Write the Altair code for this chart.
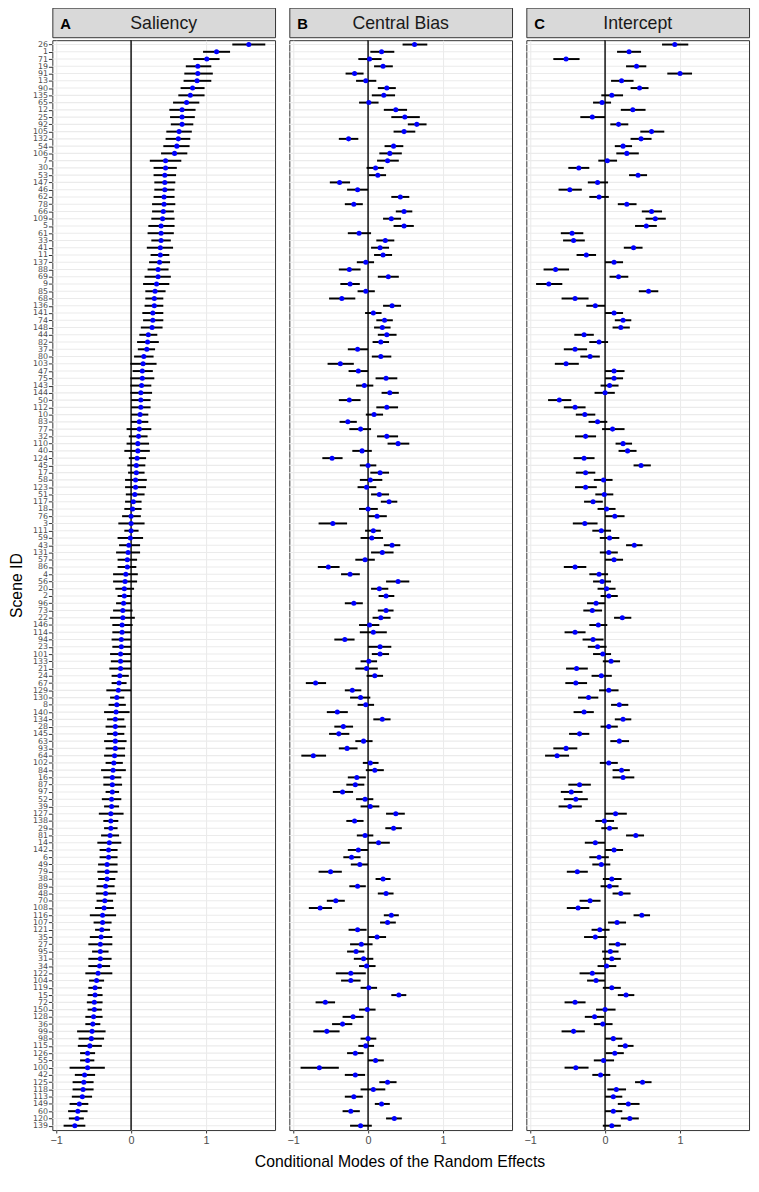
import altair as alt
import pandas as pd

# ---------------- data ----------------
scene_ids = [26, 1, 71, 19, 91, 13, 90, 135, 65, 12,
             25, 92, 105, 132, 54, 106, 7, 30, 53, 147,
             46, 62, 78, 66, 109, 5, 61, 33, 41, 11,
             137, 88, 69, 9, 85, 68, 136, 141, 74, 148,
             44, 82, 37, 80, 103, 47, 75, 143, 144, 50,
             112, 10, 83, 77, 32, 110, 40, 124, 45, 17,
             58, 123, 51, 117, 18, 76, 3, 111, 59, 43,
             131, 57, 86, 4, 56, 20, 2, 96, 73, 22,
             146, 114, 94, 23, 101, 133, 21, 24, 67, 129,
             130, 8, 140, 134, 28, 145, 63, 93, 64, 102,
             84, 16, 87, 97, 52, 39, 127, 138, 29, 81,
             14, 142, 6, 49, 79, 38, 89, 48, 70, 108,
             116, 107, 121, 35, 27, 95, 31, 34, 122, 104,
             119, 15, 72, 150, 128, 36, 99, 98, 115, 126,
             55, 100, 42, 125, 118, 113, 149, 60, 120, 139]

sal = [1.57, 1.14, 1.01, 0.89, 0.89, 0.88, 0.82, 0.79, 0.74, 0.68,
       0.68, 0.68, 0.64, 0.63, 0.61, 0.58, 0.46, 0.46, 0.45, 0.45,
       0.45, 0.44, 0.44, 0.43, 0.42, 0.40, 0.40, 0.40, 0.39, 0.39,
       0.38, 0.36, 0.36, 0.34, 0.32, 0.31, 0.31, 0.29, 0.29, 0.28,
       0.23, 0.22, 0.21, 0.17, 0.16, 0.15, 0.15, 0.14, 0.13, 0.13,
       0.13, 0.12, 0.11, 0.11, 0.10, 0.09, 0.09, 0.08, 0.07, 0.07,
       0.06, 0.06, 0.05, 0.03, 0.02, 0.00, 0.00, 0.00, -0.01, -0.03,
       -0.04, -0.05, -0.05, -0.07, -0.08, -0.09, -0.09, -0.10, -0.11, -0.11,
       -0.12, -0.12, -0.13, -0.13, -0.14, -0.14, -0.14, -0.15, -0.16, -0.17,
       -0.19, -0.19, -0.20, -0.21, -0.21, -0.21, -0.21, -0.21, -0.22, -0.23,
       -0.24, -0.25, -0.25, -0.25, -0.26, -0.26, -0.27, -0.27, -0.27, -0.28,
       -0.29, -0.30, -0.30, -0.32, -0.32, -0.32, -0.34, -0.34, -0.35, -0.36,
       -0.38, -0.38, -0.39, -0.40, -0.41, -0.41, -0.41, -0.42, -0.44, -0.46,
       -0.48, -0.48, -0.49, -0.49, -0.50, -0.51, -0.52, -0.53, -0.55, -0.58,
       -0.58, -0.58, -0.62, -0.63, -0.64, -0.65, -0.69, -0.71, -0.72, -0.75]
sal_lo = [1.35, 0.96, 0.83, 0.73, 0.71, 0.70, 0.66, 0.63, 0.56, 0.51,
          0.52, 0.53, 0.47, 0.46, 0.43, 0.40, 0.25, 0.30, 0.30, 0.31,
          0.31, 0.30, 0.28, 0.28, 0.27, 0.23, 0.22, 0.27, 0.21, 0.26,
          0.24, 0.22, 0.18, 0.16, 0.19, 0.19, 0.18, 0.15, 0.16, 0.13,
          0.11, 0.08, 0.09, 0.04, -0.01, 0.02, -0.01, -0.01, -0.01, 0.00,
          0.00, 0.00, 0.00, -0.06, -0.03, -0.06, -0.09, -0.03, -0.05, -0.04,
          -0.08, -0.08, -0.07, -0.08, -0.09, -0.12, -0.17, -0.09, -0.18, -0.16,
          -0.20, -0.18, -0.18, -0.24, -0.24, -0.21, -0.18, -0.20, -0.24, -0.28,
          -0.25, -0.25, -0.26, -0.25, -0.28, -0.27, -0.29, -0.26, -0.26, -0.33,
          -0.28, -0.30, -0.36, -0.32, -0.34, -0.32, -0.36, -0.34, -0.36, -0.34,
          -0.40, -0.37, -0.37, -0.34, -0.39, -0.36, -0.43, -0.37, -0.36, -0.40,
          -0.45, -0.42, -0.42, -0.44, -0.45, -0.44, -0.46, -0.47, -0.46, -0.48,
          -0.55, -0.50, -0.48, -0.55, -0.57, -0.52, -0.57, -0.57, -0.61, -0.56,
          -0.57, -0.58, -0.59, -0.58, -0.61, -0.61, -0.72, -0.70, -0.71, -0.68,
          -0.68, -0.82, -0.75, -0.78, -0.78, -0.79, -0.82, -0.84, -0.83, -0.90]
sal_hi = [1.79, 1.32, 1.18, 1.07, 1.09, 1.07, 0.98, 0.98, 0.91, 0.86,
          0.85, 0.83, 0.81, 0.79, 0.78, 0.75, 0.67, 0.61, 0.60, 0.59,
          0.58, 0.58, 0.59, 0.57, 0.58, 0.58, 0.57, 0.53, 0.56, 0.51,
          0.52, 0.50, 0.53, 0.51, 0.46, 0.43, 0.43, 0.43, 0.43, 0.42,
          0.35, 0.37, 0.32, 0.30, 0.34, 0.29, 0.31, 0.27, 0.28, 0.26,
          0.26, 0.23, 0.23, 0.27, 0.22, 0.24, 0.25, 0.20, 0.19, 0.18,
          0.21, 0.20, 0.18, 0.14, 0.14, 0.13, 0.18, 0.10, 0.16, 0.12,
          0.12, 0.08, 0.07, 0.09, 0.08, 0.04, 0.01, 0.00, 0.02, 0.05,
          0.02, 0.00, 0.00, 0.00, 0.00, 0.00, 0.00, -0.03, -0.06, 0.00,
          -0.09, -0.07, -0.02, -0.09, -0.07, -0.09, -0.06, -0.08, -0.08, -0.11,
          -0.07, -0.13, -0.12, -0.16, -0.13, -0.16, -0.10, -0.17, -0.18, -0.16,
          -0.13, -0.18, -0.18, -0.18, -0.18, -0.21, -0.22, -0.20, -0.24, -0.23,
          -0.20, -0.26, -0.28, -0.25, -0.25, -0.30, -0.26, -0.28, -0.25, -0.36,
          -0.39, -0.38, -0.38, -0.39, -0.38, -0.41, -0.34, -0.36, -0.39, -0.48,
          -0.49, -0.35, -0.48, -0.50, -0.50, -0.52, -0.57, -0.58, -0.63, -0.61]

cb = [0.62, 0.18, 0.02, 0.20, -0.18, -0.03, 0.25, 0.21, 0.01, 0.37,
      0.49, 0.65, 0.48, -0.26, 0.34, 0.29, 0.26, 0.10, 0.13, -0.38,
      -0.14, 0.43, -0.19, 0.48, 0.31, 0.48, -0.12, 0.23, 0.16, 0.20,
      -0.03, -0.25, 0.27, -0.24, -0.03, -0.35, 0.32, 0.07, 0.22, 0.19,
      0.25, 0.17, -0.14, 0.17, -0.37, -0.13, 0.24, -0.05, 0.29, -0.25,
      0.25, 0.08, -0.27, -0.10, 0.25, 0.40, -0.08, -0.48, 0.00, 0.16,
      0.03, -0.02, 0.15, 0.28, 0.00, 0.12, -0.47, 0.07, 0.05, 0.32,
      0.19, -0.04, -0.53, -0.24, 0.40, 0.15, 0.24, -0.19, 0.24, 0.17,
      0.02, 0.07, -0.31, 0.16, 0.16, 0.01, -0.02, 0.09, -0.70, -0.21,
      -0.10, -0.03, -0.41, 0.19, -0.33, -0.39, -0.06, -0.28, -0.73, 0.03,
      0.09, -0.15, -0.17, -0.34, -0.04, 0.03, 0.37, -0.18, 0.34, -0.04,
      0.14, -0.13, -0.22, -0.11, -0.50, 0.20, -0.14, 0.24, -0.43, -0.64,
      0.31, 0.26, -0.14, 0.12, -0.09, -0.16, -0.06, -0.02, -0.23, -0.23,
      0.01, 0.41, -0.57, -0.01, -0.20, -0.34, -0.55, 0.00, -0.03, -0.17,
      0.10, -0.65, -0.17, 0.26, 0.07, -0.19, 0.18, -0.23, 0.35, -0.10]
cb_lo = [0.46, 0.03, -0.13, 0.08, -0.30, -0.16, 0.13, 0.05, -0.12, 0.21,
         0.31, 0.53, 0.34, -0.39, 0.22, 0.15, 0.12, -0.02, 0.01, -0.51,
         -0.28, 0.31, -0.31, 0.37, 0.20, 0.34, -0.27, 0.11, 0.04, 0.08,
         -0.15, -0.39, 0.13, -0.37, -0.14, -0.52, 0.20, -0.04, 0.11, 0.08,
         0.13, 0.06, -0.27, 0.05, -0.54, -0.26, 0.10, -0.16, 0.18, -0.39,
         0.11, -0.03, -0.38, -0.25, 0.12, 0.26, -0.21, -0.61, -0.11, 0.03,
         -0.11, -0.14, 0.04, 0.17, -0.12, 0.00, -0.66, -0.04, -0.10, 0.21,
         0.04, -0.17, -0.67, -0.36, 0.24, 0.04, 0.14, -0.31, 0.13, 0.06,
         -0.12, -0.11, -0.45, 0.00, 0.05, -0.10, -0.17, -0.02, -0.83, -0.31,
         -0.24, -0.14, -0.55, 0.07, -0.45, -0.52, -0.17, -0.39, -0.89, -0.07,
         -0.03, -0.27, -0.29, -0.47, -0.16, -0.10, 0.24, -0.29, 0.23, -0.15,
         0.00, -0.27, -0.33, -0.23, -0.66, 0.10, -0.25, 0.13, -0.55, -0.79,
         0.21, 0.16, -0.26, 0.00, -0.24, -0.28, -0.19, -0.12, -0.43, -0.36,
         -0.10, 0.31, -0.70, -0.12, -0.34, -0.48, -0.73, -0.10, -0.13, -0.28,
         0.00, -0.90, -0.31, 0.15, -0.10, -0.31, 0.09, -0.34, 0.24, -0.24]
cb_hi = [0.79, 0.35, 0.18, 0.33, -0.06, 0.11, 0.37, 0.36, 0.14, 0.52,
         0.69, 0.78, 0.63, -0.13, 0.47, 0.45, 0.41, 0.21, 0.24, -0.24,
         0.00, 0.55, -0.07, 0.59, 0.44, 0.61, 0.04, 0.35, 0.28, 0.32,
         0.08, -0.10, 0.41, -0.11, 0.09, -0.17, 0.44, 0.18, 0.33, 0.30,
         0.38, 0.28, 0.00, 0.31, -0.19, 0.00, 0.39, 0.07, 0.41, -0.10,
         0.40, 0.20, -0.15, 0.04, 0.40, 0.55, 0.05, -0.34, 0.11, 0.28,
         0.19, 0.11, 0.28, 0.39, 0.13, 0.25, -0.28, 0.17, 0.20, 0.43,
         0.34, 0.09, -0.38, -0.11, 0.55, 0.27, 0.35, -0.07, 0.34, 0.30,
         0.15, 0.25, -0.18, 0.31, 0.28, 0.12, 0.13, 0.20, -0.56, -0.09,
         0.03, 0.08, -0.27, 0.30, -0.20, -0.25, 0.06, -0.14, -0.56, 0.14,
         0.21, -0.03, -0.05, -0.20, 0.07, 0.15, 0.49, -0.06, 0.45, 0.07,
         0.29, 0.00, -0.10, 0.00, -0.35, 0.30, -0.03, 0.34, -0.31, -0.48,
         0.41, 0.37, -0.02, 0.24, 0.06, -0.05, 0.07, 0.10, -0.03, -0.10,
         0.12, 0.51, -0.44, 0.10, -0.06, -0.21, -0.38, 0.11, 0.08, -0.06,
         0.21, -0.39, -0.04, 0.38, 0.23, -0.07, 0.29, -0.11, 0.45, 0.05]

ic = [0.93, 0.32, -0.52, 0.42, 1.00, 0.22, 0.46, 0.09, -0.04, 0.37,
      -0.17, 0.18, 0.62, 0.48, 0.24, 0.29, 0.03, -0.35, 0.44, -0.10,
      -0.47, -0.08, 0.29, 0.62, 0.67, 0.55, -0.44, -0.42, 0.38, -0.25,
      0.12, -0.66, 0.18, -0.75, 0.58, -0.40, -0.13, 0.12, 0.24, 0.21,
      -0.28, -0.08, -0.40, -0.20, -0.52, 0.12, 0.12, 0.06, 0.00, -0.61,
      -0.40, -0.27, -0.10, 0.10, -0.26, 0.24, 0.30, -0.28, 0.48, -0.26,
      -0.02, -0.26, -0.01, -0.16, 0.02, 0.13, -0.27, -0.05, 0.06, 0.39,
      0.05, 0.12, -0.40, -0.08, -0.04, 0.02, 0.05, -0.12, -0.17, 0.23,
      -0.09, -0.40, -0.16, -0.10, -0.03, 0.08, -0.38, -0.05, -0.39, 0.05,
      -0.22, 0.19, -0.28, 0.24, 0.05, -0.34, 0.19, -0.52, -0.64, 0.05,
      0.22, 0.24, -0.34, -0.45, -0.39, -0.47, 0.14, -0.01, 0.06, 0.41,
      -0.13, 0.12, -0.08, -0.05, -0.37, 0.09, 0.06, 0.21, -0.20, -0.36,
      0.49, 0.16, -0.07, -0.13, 0.17, 0.07, 0.09, 0.02, -0.17, -0.12,
      0.09, 0.28, -0.40, 0.00, -0.14, -0.03, -0.42, 0.11, 0.27, 0.13,
      -0.02, -0.39, -0.06, 0.50, 0.15, 0.11, 0.31, 0.11, 0.33, 0.09]
ic_lo = [0.76, 0.16, -0.69, 0.28, 0.83, 0.08, 0.34, -0.05, -0.16, 0.21,
         -0.33, 0.07, 0.47, 0.34, 0.13, 0.15, -0.09, -0.49, 0.32, -0.23,
         -0.62, -0.21, 0.17, 0.49, 0.54, 0.40, -0.59, -0.56, 0.25, -0.38,
         0.00, -0.82, 0.06, -0.92, 0.45, -0.58, -0.25, 0.00, 0.13, 0.10,
         -0.41, -0.21, -0.55, -0.33, -0.67, 0.00, 0.00, -0.06, -0.14, -0.76,
         -0.55, -0.39, -0.22, -0.04, -0.40, 0.14, 0.18, -0.42, 0.38, -0.39,
         -0.15, -0.40, -0.13, -0.28, -0.10, 0.00, -0.43, -0.17, -0.07, 0.28,
         -0.07, 0.00, -0.55, -0.21, -0.16, -0.10, -0.06, -0.24, -0.29, 0.12,
         -0.21, -0.54, -0.30, -0.23, -0.16, -0.03, -0.52, -0.18, -0.53, -0.08,
         -0.36, 0.08, -0.42, 0.13, -0.06, -0.48, 0.07, -0.69, -0.80, -0.07,
         0.10, 0.10, -0.49, -0.59, -0.55, -0.62, 0.00, -0.13, -0.05, 0.28,
         -0.27, 0.00, -0.21, -0.17, -0.51, -0.03, -0.06, 0.10, -0.34, -0.51,
         0.38, 0.04, -0.18, -0.28, 0.05, -0.04, -0.03, -0.10, -0.34, -0.24,
         -0.03, 0.17, -0.54, -0.12, -0.27, -0.15, -0.58, 0.00, 0.17, 0.01,
         -0.15, -0.54, -0.17, 0.40, 0.03, 0.00, 0.17, 0.00, 0.21, -0.03]
ic_hi = [1.11, 0.48, -0.34, 0.55, 1.16, 0.38, 0.58, 0.24, 0.08, 0.54,
         0.00, 0.31, 0.79, 0.62, 0.36, 0.45, 0.16, -0.21, 0.56, 0.04,
         -0.31, 0.05, 0.42, 0.76, 0.81, 0.69, -0.29, -0.27, 0.50, -0.12,
         0.24, -0.48, 0.31, -0.57, 0.71, -0.22, 0.00, 0.24, 0.35, 0.33,
         -0.15, 0.04, -0.24, -0.07, -0.35, 0.26, 0.24, 0.18, 0.13, -0.45,
         -0.26, -0.13, 0.03, 0.26, -0.12, 0.36, 0.42, -0.14, 0.61, -0.13,
         0.10, -0.11, 0.11, -0.03, 0.14, 0.26, -0.10, 0.08, 0.19, 0.50,
         0.17, 0.24, -0.25, 0.04, 0.08, 0.14, 0.17, 0.00, -0.04, 0.35,
         0.03, -0.26, -0.02, 0.02, 0.08, 0.20, -0.23, 0.09, -0.24, 0.18,
         -0.09, 0.31, -0.15, 0.35, 0.17, -0.21, 0.32, -0.37, -0.48, 0.17,
         0.33, 0.39, -0.19, -0.30, -0.23, -0.31, 0.29, 0.12, 0.17, 0.52,
         0.00, 0.24, 0.05, 0.07, -0.23, 0.22, 0.18, 0.34, -0.06, -0.21,
         0.60, 0.28, 0.06, 0.02, 0.28, 0.18, 0.21, 0.15, 0.00, 0.00,
         0.21, 0.39, -0.26, 0.14, -0.01, 0.10, -0.27, 0.23, 0.38, 0.25,
         0.12, -0.22, 0.07, 0.62, 0.28, 0.23, 0.46, 0.23, 0.45, 0.21]

panel_letters = ["A", "B", "C"]
panel_names = ["Saliency", "Central Bias", "Intercept"]
x_ticks = [-1, -0.5, 0, 0.5, 1, 1.5]
x_domain = [-1.05, 1.92]
zero_ref = [0]
x_title = "Conditional Modes of the Random Effects"
y_title = "Scene ID"

# ---------------- chart ----------------
order = [str(s) for s in scene_ids]
FONT = "Liberation Sans"
PW, PH, SH = 226, 1106, 30
GRID = "#EBEBEB"
INT_TEST = "datum.value % 1 === 0"

xscale = alt.Scale(domain=x_domain, nice=False, zero=False)
yscale = alt.Scale(type="point", padding=0.6)

x_axis = alt.Axis(
    values=x_ticks,
    format="d",
    labelExpr=INT_TEST + " ? datum.label : ''",
    tickOpacity={"condition": {"test": INT_TEST, "value": 1}, "value": 0},
    gridWidth={"condition": {"test": INT_TEST, "value": 1.1}, "value": 0.6},
    gridColor=GRID,
    grid=True,
    domain=False,
    tickColor="#333333",
    tickSize=3,
    labelPadding=2,
    labelFont=FONT,
    labelFontSize=11,
    labelColor="#4D4D4D",
    title=None,
)

y_axis_main = alt.Axis(
    title=y_title, labelFont="DejaVu Sans", labelFontSize=8,
    labelColor="#4D4D4D", tickColor="#333333", tickSize=4,
    labelPadding=1, grid=False, domain=False, titleFont=FONT,
    titleFontSize=16, titleFontWeight="normal", titleColor="black",
    titlePadding=5, minExtent=23, maxExtent=23,
)


def panel(est, lo, hi, show_y):
    df = pd.DataFrame({"scene": order, "est": est, "lo": lo, "hi": hi})
    if show_y:
        yenc = alt.Y("scene:N", sort=order, scale=yscale, axis=y_axis_main)
    else:
        yenc = alt.Y("scene:N", sort=order, scale=yscale, axis=None)
    base = alt.Chart(df)
    hgrid = base.mark_rule(color=GRID, strokeWidth=1.1).encode(y=yenc)
    zero = alt.Chart(pd.DataFrame({"ref": zero_ref})).mark_rule(
        color="black", strokeWidth=1.4
    ).encode(x=alt.X("ref:Q", scale=xscale, axis=x_axis))
    bars = base.mark_rule(color="black", strokeWidth=2).encode(
        y=yenc, x=alt.X("lo:Q", scale=xscale, axis=x_axis), x2="hi:Q")
    pts = base.mark_circle(color="#0000FF", size=26, opacity=1).encode(
        y=yenc, x=alt.X("est:Q", scale=xscale, axis=x_axis))
    return alt.layer(hgrid, zero, bars, pts).properties(width=PW, height=PH)


def strip(letter, name):
    sdf = pd.DataFrame({"letter": [letter], "name": [name]})
    t_name = alt.Chart(sdf).mark_text(
        font=FONT, fontSize=18, color="#1A1A1A", align="center",
        baseline="alphabetic"
    ).encode(text="name:N", x=alt.value(PW / 2), y=alt.value(21.5))
    t_letter = alt.Chart(sdf).mark_text(
        font=FONT, fontSize=15, fontWeight="bold", color="black",
        align="left", baseline="alphabetic"
    ).encode(text="letter:N", x=alt.value(8), y=alt.value(21.5))
    return alt.layer(t_letter, t_name).properties(
        width=PW, height=SH,
        view=alt.ViewBackground(fill="#D9D9D9", stroke="#333333", strokeWidth=1),
    )


series = [(sal, sal_lo, sal_hi), (cb, cb_lo, cb_hi), (ic, ic_lo, ic_hi)]
columns = []
for k in range(3):
    e, l, h = series[k]
    p = panel(e, l, h, k == 0)
    columns.append(alt.vconcat(strip(panel_letters[k], panel_names[k]), p, spacing=0))

chart = alt.hconcat(*columns, spacing=9.5).properties(
    padding={"left": 0, "top": -10, "right": 0, "bottom": 0},
    title=alt.TitleParams(
        text=x_title, orient="bottom", anchor="middle", font=FONT,
        fontSize=16, fontWeight="normal", color="black", offset=8, dx=21,
    ),
).configure_view(stroke="#333333", strokeWidth=1, fill="white")

chart.save("out.html", embed_options={"renderer": "svg", "actions": False})
